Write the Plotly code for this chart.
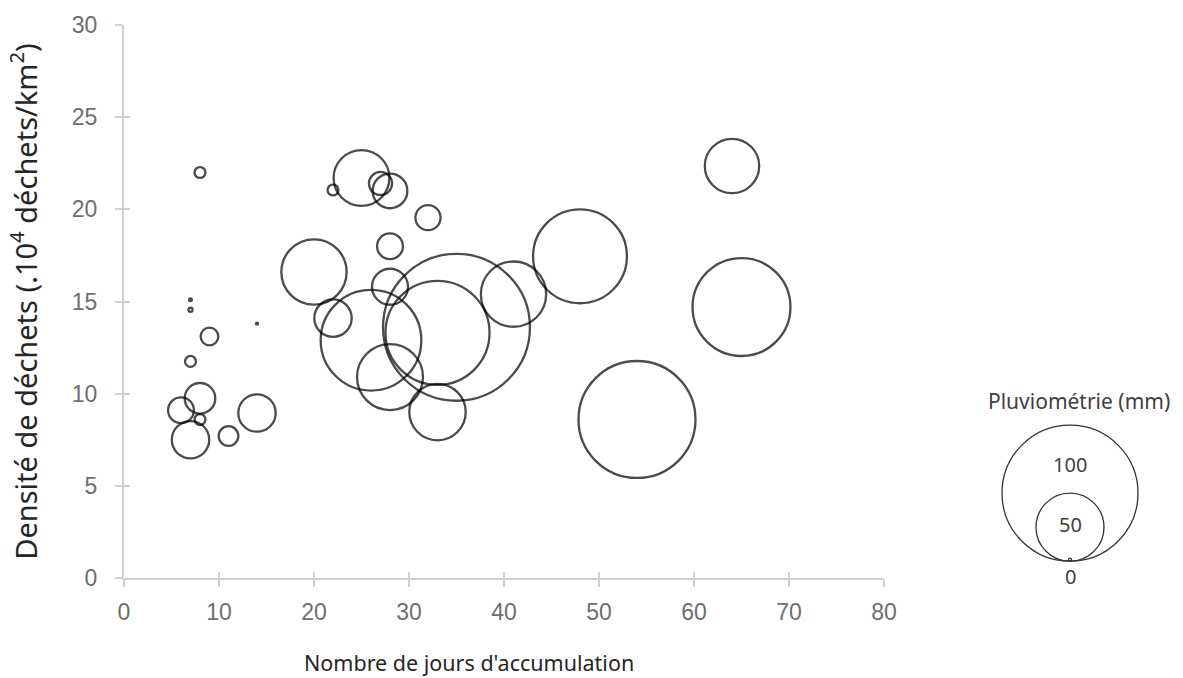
import plotly.graph_objects as go

# Data
days = [8, 7, 7, 9, 14, 7, 8, 6, 8, 7, 11, 14,
        25, 22, 27, 28, 32, 28, 20, 28, 22, 26, 35, 33, 28, 33, 41,
        64, 48, 65, 54]
density = [22.0, 15.1, 14.55, 13.1, 13.8, 11.75, 9.75, 9.1, 8.6, 7.5, 7.7, 8.95,
           21.7, 21.05, 21.4, 21.0, 19.55, 18.0, 16.6, 15.8, 14.1, 12.9, 13.6, 13.3, 10.9, 9.0, 15.4,
           22.35, 17.45, 14.7, 8.6]
rain_mm = [8, 2, 3, 13, 1.5, 8, 22.5, 19, 8, 27.5, 14.5, 27.5,
           41, 8, 17, 25.5, 18.5, 19, 48, 26.5, 27.5, 74, 108, 76.5, 48.5, 41.5, 48,
           40, 69, 72, 86]

legend_values = [100, 50, 0]
legend_labels = ["100", "50", "0"]
x_ticks = [0, 10, 20, 30, 40, 50, 60, 70, 80]
y_ticks = [0, 5, 10, 15, 20, 25, 30]

PX_PER_MM = 1.36  # bubble diameter scale (pixels per mm)

AXIS_COLOR = "#d0d0d0"
TICK_FONT = dict(family="Liberation Sans, Arial, sans-serif", size=23, color="#6e6e6e")

fig = go.Figure()
fig.add_trace(go.Scatter(
    x=days, y=density, mode="markers",
    marker=dict(size=rain_mm, sizemode="diameter", sizeref=1 / PX_PER_MM, sizemin=0,
                color="rgba(0,0,0,0)", line=dict(color="#000000", width=2.3)),
    showlegend=False, hoverinfo="x+y+text", text=[f"{r} mm" for r in rain_mm],
))

W, H = 1183, 678
ML, MR, MT, MB = 124, 299, 19, 100
pw, ph = W - ML - MR, H - MT - MB

fig.update_layout(
    width=W, height=H,
    margin=dict(l=ML, r=MR, t=MT, b=MB),
    plot_bgcolor="white", paper_bgcolor="white",
    xaxis=dict(range=[0, 80], tickvals=x_ticks, showgrid=False, zeroline=False,
               showline=True, linecolor=AXIS_COLOR, linewidth=2,
               ticks="outside", ticklen=7, tickcolor=AXIS_COLOR, tickwidth=2,
               tickfont=TICK_FONT, ticklabelstandoff=5),
    yaxis=dict(range=[0, 30], tickvals=y_ticks, showgrid=False, zeroline=False,
               showline=True, linecolor=AXIS_COLOR, linewidth=2,
               ticks="outside", ticklen=7, tickcolor=AXIS_COLOR, tickwidth=2,
               tickfont=TICK_FONT, ticklabelstandoff=13,
               title=dict(text="Densité de déchets (.10<sup>4</sup> déchets/km<sup>2</sup>)",
                          font=dict(family="Noto Sans, sans-serif", size=29, color="#262626"),
                          standoff=26)),
    xaxis2=dict(range=[0, 80], tickvals=x_ticks, overlaying="x", showgrid=False,
                zeroline=False, showticklabels=False, ticks="inside", ticklen=6,
                tickcolor=AXIS_COLOR, tickwidth=2, side="bottom"),
    yaxis2=dict(range=[0, 30], tickvals=y_ticks, overlaying="y", showgrid=False,
                zeroline=False, showticklabels=False, ticks="inside", ticklen=6,
                tickcolor=AXIS_COLOR, tickwidth=2, side="left"),
)
# dummy trace to activate the overlay axes for cross ticks
fig.add_trace(go.Scatter(x=[None], y=[None], xaxis="x2", yaxis="y2", showlegend=False))

# x-axis title as annotation (offset from center like the reference)
fig.add_annotation(text="Nombre de jours d'accumulation", xref="paper", yref="paper",
                   x=(469 - ML) / pw, y=-(663 - (MT + ph)) / ph, showarrow=False,
                   font=dict(family="Noto Sans, sans-serif", size=21.5, color="#262626"),
                   xanchor="center", yanchor="middle")

# Size legend: nested circles bottom-aligned
anchor_x = (1070 - ML) / pw
anchor_y = ((MT + ph) - 561) / ph
label_pos = {"100": 463, "50": 524, "0": 576}
for v, lab in zip(legend_values, legend_labels):
    d = max(v * PX_PER_MM, 3)
    fig.add_shape(type="circle", xref="paper", yref="paper",
                  xsizemode="pixel", ysizemode="pixel",
                  xanchor=anchor_x, yanchor=anchor_y,
                  x0=-d / 2, x1=d / 2, y0=0, y1=d,
                  line=dict(color="#333333", width=1.3))
    fig.add_annotation(text=lab, xref="paper", yref="paper",
                       x=anchor_x, y=((MT + ph) - label_pos[lab]) / ph,
                       showarrow=False, xanchor="center", yanchor="middle",
                       font=dict(family="Noto Sans, sans-serif", size=20, color="#404040"))
fig.add_annotation(text="Pluviométrie (mm)", xref="paper", yref="paper",
                   x=(1079 - ML) / pw, y=((MT + ph) - 399) / ph, showarrow=False,
                   xanchor="center", yanchor="middle",
                   font=dict(family="Noto Sans, sans-serif", size=21, color="#404040"))

fig.write_html("out.html", config={"displayModeBar": False},
               post_script="document.body.style.margin='0';")
